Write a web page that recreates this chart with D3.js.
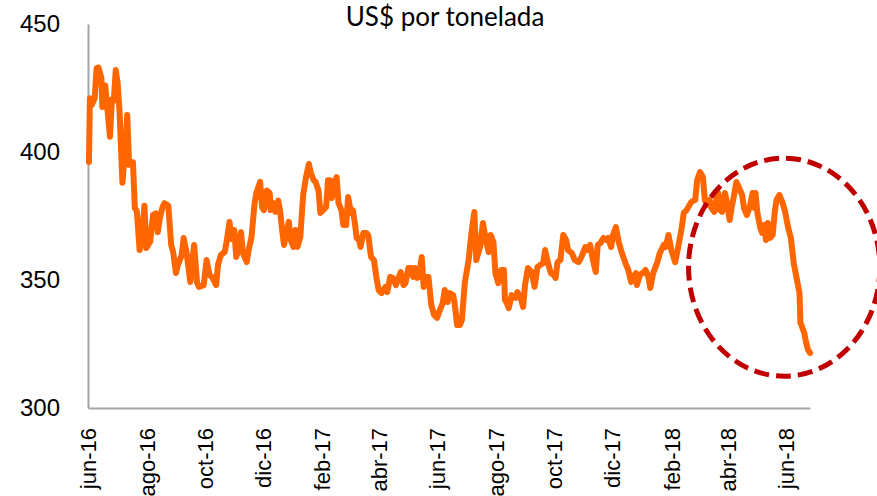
<!DOCTYPE html>
<html>

<head>
	<meta charset="utf-8">
	<title>US$ por tonelada</title>
	<script src="https://d3js.org/d3.v7.min.js"></script>
	<style>
		body { margin: 0; background: #fff; }
		svg { display: block; font-family: Lato, "Open Sans", sans-serif; }
	</style>
</head>

<body>
	<script>
		// Days since 1 Jun 2016
		const dayOffsets = [
			1, 2, 4, 7, 9, 11, 14, 15, 18, 20, 23, 25, 27, 29, 31, 33, 36, 39, 41, 43,
			45, 47, 49, 51, 54, 56, 59, 61, 65, 68, 71, 73, 75, 78, 80, 84, 87, 89, 92, 94,
			98, 100, 103, 107, 109, 111, 114, 116, 121, 124, 127, 130, 134, 136, 139, 143, 145, 148, 150, 153,
			155, 157, 160, 162, 166, 168, 171, 174, 176, 180, 182, 184, 187, 190, 191, 194, 196, 199, 201, 203,
			205, 208, 210, 212, 215, 217, 219, 222, 225, 228, 231, 233, 236, 238, 241, 243, 246, 249, 251, 253,
			255, 257, 260, 262, 265, 267, 270, 272, 275, 277, 279, 281, 283, 285, 288, 291, 293, 296, 299, 302,
			304, 307, 311, 313, 316, 319, 322, 324, 327, 330, 332, 335, 338, 340, 342, 344, 346, 349, 351, 353,
			356, 359, 362, 365, 368, 371, 373, 376, 378, 382, 384, 386, 389, 391, 394, 398, 401, 404, 406, 410,
			413, 416, 419, 421, 424, 426, 429, 432, 435, 436, 438, 440, 443, 447, 449, 452, 455, 457, 460, 464,
			467, 470, 473, 476, 478, 481, 484, 487, 489, 491, 494, 497, 500, 502, 506, 509, 513, 516, 520, 522,
			525, 528, 531, 533, 536, 539, 542, 544, 547, 549, 552, 555, 558, 562, 565, 568, 570, 573, 574, 577,
			580, 583, 586, 588, 591, 595, 598, 602, 604, 607, 610, 614, 617, 621, 623, 626, 629, 631, 635, 637,
			640, 643, 645, 647, 650, 652, 655, 657, 659, 661, 663, 666, 668, 671, 673, 676, 678, 681, 684, 686,
			689, 692, 695, 697, 698, 700, 703, 705, 707, 709, 711, 713, 716, 718, 720, 723, 726, 729, 732, 735,
			738, 741, 744, 745, 746, 749, 751, 753, 755
		];

		// Price, US$ per tonne
		const prices = [
			396.1, 421, 418.4, 421, 432.8, 433, 429, 417.6, 426, 418, 406, 420.5, 420, 432, 427, 415.6, 388, 401.6, 414.5, 395,
			396, 396, 378, 377, 361.7, 365, 379, 362.5, 365, 375.4, 376, 368.7, 374, 378.5, 380, 379, 363.7, 361, 352.7, 355.9,
			359.8, 366.4, 361, 349.2, 357, 363.7, 349, 347.3, 348, 357.8, 352, 351, 348, 356, 359.8, 361, 365, 372.7, 366, 369.5,
			359, 361.7, 368.7, 360.5, 357, 361.7, 366.8, 379.3, 384, 388.3, 378.5, 377.3, 385, 384, 377.3, 380, 376.6, 381, 376.6, 369.5,
			363.7, 369.5, 372.7, 365.6, 362.9, 369.5, 362.9, 366.8, 383.2, 390.2, 395.3, 391.8, 389, 388.3, 385, 376.2, 377.3, 378.5, 389, 389,
			382, 387.9, 390.2, 380, 377.3, 371.5, 371.5, 382.4, 376.2, 377.3, 372.3, 366.4, 366.4, 362.9, 368.4, 368.4, 367.6, 359, 357.8, 350,
			346, 344.9, 347.3, 345.3, 351.2, 350.8, 348, 350, 353.1, 348, 348.8, 354.7, 354.7, 351.2, 354.7, 350.8, 351.2, 359, 347.3, 351.2,
			351.2, 340.2, 336.3, 335.2, 338.3, 341, 346.1, 341.4, 344.9, 344.1, 339, 332.4, 332.4, 334.4, 348.8, 357.8, 368.4, 376.6, 357.8, 362.9,
			372.3, 365.6, 360.9, 367.6, 364.8, 352.7, 348.8, 353.9, 353.9, 342.2, 341, 339, 344.1, 343, 345.3, 343.4, 339.5, 348, 354.7, 353.1,
			347.3, 355.1, 355.9, 356.6, 361.7, 356.6, 352.7, 352, 350.8, 357, 357.8, 367.6, 365.6, 361.7, 360.5, 357.8, 357, 359, 362.9, 361.7,
			363.7, 357.8, 353.1, 363.7, 364.5, 366.4, 365.6, 366.4, 362.9, 367.6, 370.7, 364.8, 360.9, 356.6, 353.9, 349.2, 351.2, 352.7, 348, 352,
			352.7, 353.9, 351.2, 346.9, 352.7, 356.6, 360.5, 363.7, 362.9, 367.6, 361.7, 357, 362.5, 370.7, 376.2, 377.3, 379.3, 380.5, 381.3, 389,
			392.2, 390.2, 381.3, 379.3, 381.3, 378.1, 376.6, 381.3, 384, 377.3, 376.6, 384, 380.5, 373.4, 378.1, 384, 388.3, 385.9, 383.2, 378.1,
			375.4, 378.5, 384, 378.1, 384, 376.2, 370.3, 368.4, 371.5, 365.6, 372.3, 366.4, 367.6, 376.2, 381.3, 383.2, 380.5, 376.6, 370.7, 366.4,
			356.6, 350.8, 344.9, 333.2, 332.4, 329.3, 325.4, 322.7, 321.5
		];

		const monthLabels = ['jun-16', 'ago-16', 'oct-16', 'dic-16', 'feb-17', 'abr-17', 'jun-17',
			'ago-17', 'oct-17', 'dic-17', 'feb-18', 'abr-18', 'jun-18'];
		const yTicks = [300, 350, 400, 450];

		const startDate = new Date(2016, 5, 1);
		const endDate = new Date(2018, 5, 26);

		// Highlighted zone: centre day / price and radii in the same units
		const zone = { day: 728, price: 355, dayRadius: 100, priceRadius: 42.6 };

		const width = 877, height = 496;
		const margin = { top: 24, right: 67, bottom: 88, left: 88 };

		const svg = d3.select('body')
			.append('svg')
			.attr('width', width)
			.attr('height', height);

		const data = prices.map((p, i) => ({
			date: d3.timeDay.offset(startDate, dayOffsets[i]),
			price: p
		}));

		const x = d3.scaleTime()
			.domain([startDate, endDate])
			.range([margin.left, width - margin.right]);

		const y = d3.scaleLinear()
			.domain([300, 450])
			.range([height - margin.bottom, margin.top]);

		// Title
		svg.append('text')
			.attr('x', 445)
			.attr('y', 26)
			.attr('text-anchor', 'middle')
			.style('font-size', '26px')
			.text('US$ por tonelada');

		// Y axis
		const yAxis = svg.append('g')
			.attr('transform', `translate(${margin.left},0)`)
			.call(d3.axisLeft(y).tickValues(yTicks).tickSize(0).tickPadding(28));
		yAxis.select('.domain').attr('stroke', '#a6a6a6').attr('stroke-width', 2);
		yAxis.selectAll('text').style('font-size', '24px').attr('fill', '#000');

		// X axis, every two months
		const tickDates = monthLabels.map((_, i) => d3.timeMonth.offset(startDate, i * 2));
		const xAxis = svg.append('g')
			.attr('transform', `translate(0,${height - margin.bottom})`)
			.call(d3.axisBottom(x).tickValues(tickDates).tickSize(0)
				.tickFormat((d, i) => monthLabels[i]));
		xAxis.select('.domain').attr('stroke', '#a6a6a6').attr('stroke-width', 2);
		xAxis.selectAll('text')
			.style('font-size', '22px')
			.attr('fill', '#000')
			.attr('transform', 'rotate(-90)')
			.attr('text-anchor', 'end')
			.attr('x', -20)
			.attr('y', 0)
			.attr('dy', '0.35em');

		// Price line
		const line = d3.line()
			.x(d => x(d.date))
			.y(d => y(d.price));

		svg.append('path')
			.datum(data)
			.attr('d', line)
			.attr('fill', 'none')
			.attr('stroke', '#ff6600')
			.attr('stroke-width', 6)
			.attr('stroke-linejoin', 'round')
			.attr('stroke-linecap', 'round');

		// Dashed ellipse around the latest drop
		const cx = x(d3.timeDay.offset(startDate, zone.day));
		svg.append('ellipse')
			.attr('cx', cx)
			.attr('cy', y(zone.price))
			.attr('rx', x(d3.timeDay.offset(startDate, zone.day + zone.dayRadius)) - cx)
			.attr('ry', y(zone.price - zone.priceRadius) - y(zone.price))
			.attr('fill', 'none')
			.attr('stroke', '#c00000')
			.attr('stroke-width', 5)
			.attr('stroke-dasharray', '15,7');
	</script>
</body>

</html>
